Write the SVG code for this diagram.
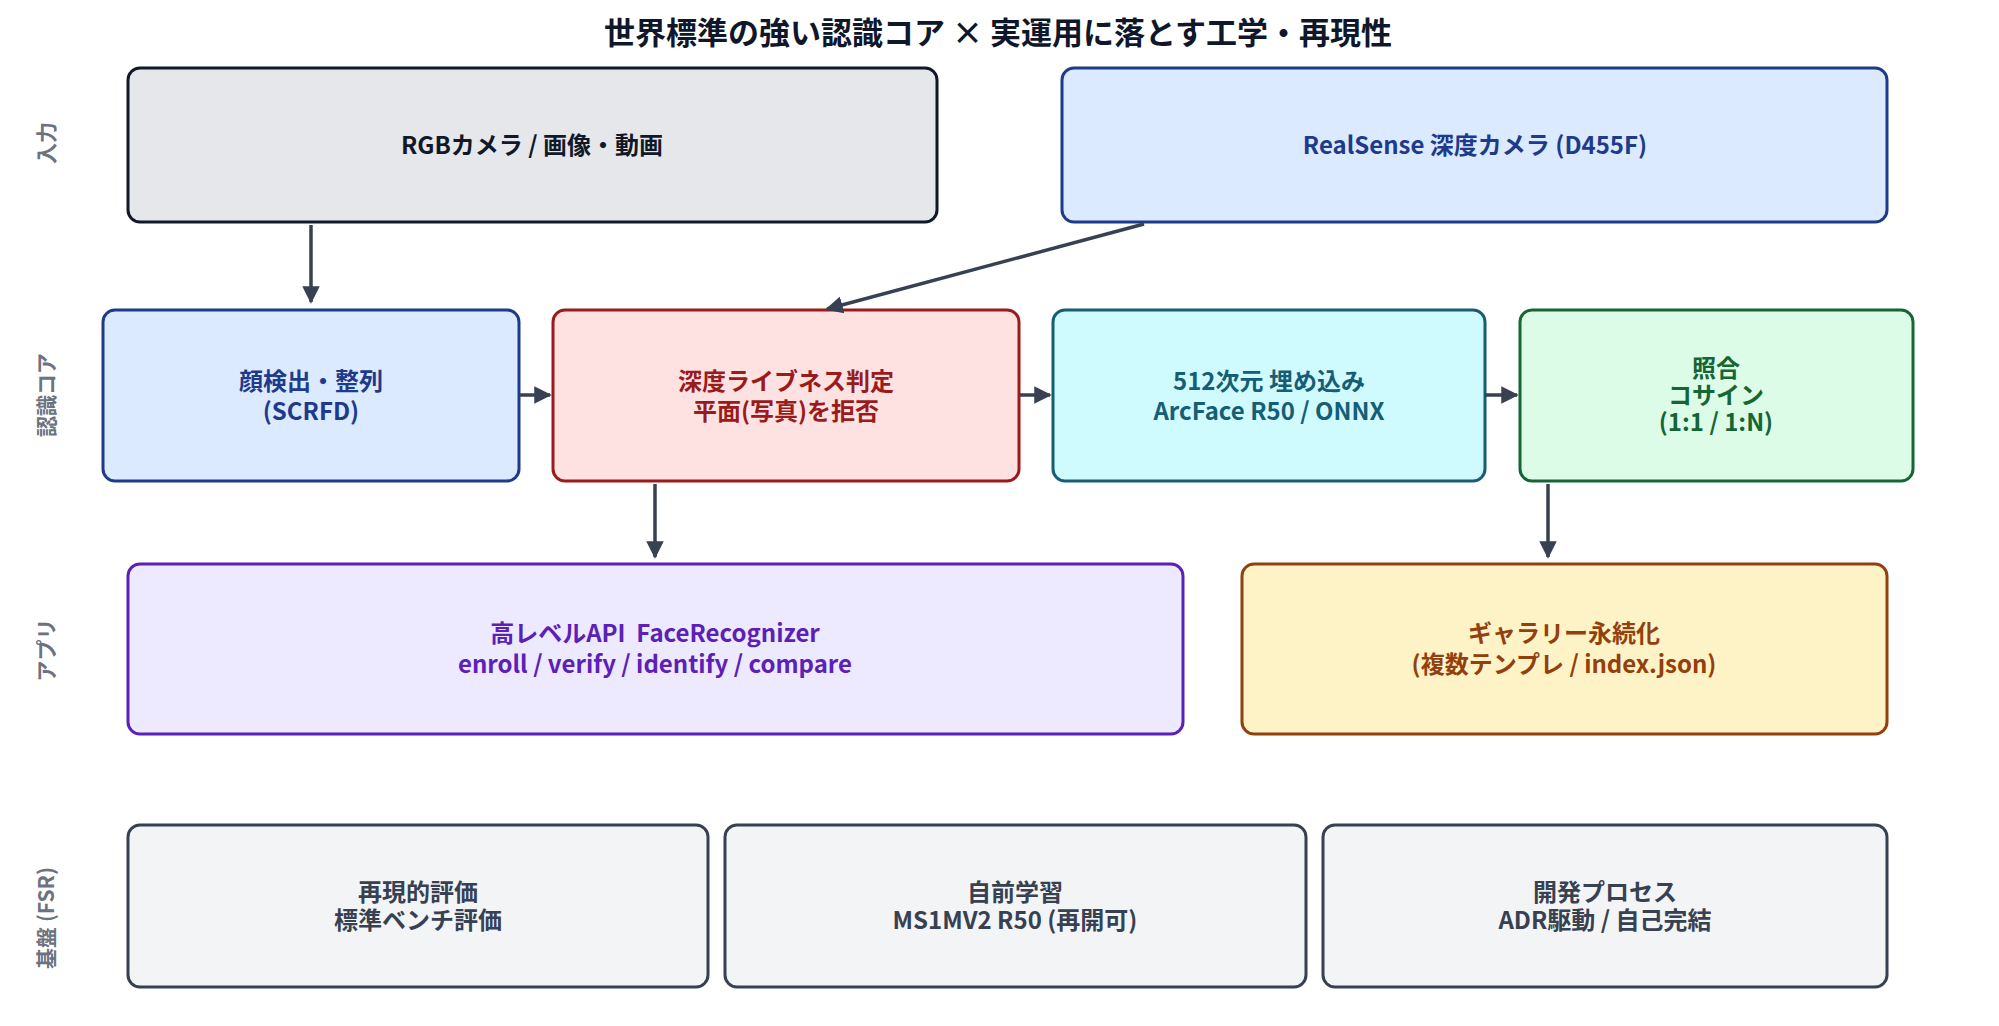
<svg xmlns="http://www.w3.org/2000/svg" width="1999" height="1026" viewBox="0 0 1999 1026">
<style>
text{font-family:"Noto Sans CJK JP","Noto Sans",sans-serif;font-weight:700;text-anchor:middle;dominant-baseline:central}
.t{font-size:24px}
.lane{font-size:21px;fill:#6b7280}
rect{stroke-width:3}
.c{stroke:#374151;stroke-width:3.5;fill:none;marker-end:url(#a)}
</style>
<defs><marker id="a" viewBox="0 0 10 10" refX="9" refY="5" markerWidth="5" markerHeight="5" orient="auto" markerUnits="strokeWidth"><path d="M0,0L10,5L0,10z" fill="#374151"/></marker></defs>
<rect width="1999" height="1026" fill="#fff" style="stroke:none"/>
<text x="998" y="30" style="font-size:31px;fill:#0f172a">世界標準の強い認識コア × 実運用に落とす工学・再現性</text>
<g id="lanes">
<text class="lane" transform="translate(45,143) rotate(-90)">入力</text>
<text class="lane" transform="translate(45,395) rotate(-90)">認識コア</text>
<text class="lane" transform="translate(45,650) rotate(-90)">アプリ</text>
<text class="lane" transform="translate(45,918) rotate(-90)">基盤 (FSR)</text>
</g>
<g id="rgb"><rect x="128" y="68" width="809" height="154" rx="12" fill="#e5e7eb" stroke="#111827"/><text class="t" x="532" y="143" fill="#111827">RGBカメラ / 画像・動画</text></g>
<g id="realsense"><rect x="1062" y="68" width="825" height="154" rx="12" fill="#dbeafe" stroke="#1e3a8a"/><text class="t" x="1475" y="143" fill="#1e3a8a">RealSense 深度カメラ (D455F)</text></g>
<g id="detect"><rect x="103" y="310" width="416" height="171" rx="12" fill="#dbeafe" stroke="#1e3a8a"/><text class="t" fill="#1e3a8a"><tspan x="311" y="379">顔検出・整列</tspan><tspan x="311" y="409">(SCRFD)</tspan></text></g>
<g id="liveness"><rect x="553" y="310" width="466" height="171" rx="12" fill="#fee2e2" stroke="#991b1b"/><text class="t" fill="#991b1b"><tspan x="786" y="379">深度ライブネス判定</tspan><tspan x="786" y="409">平面(写真)を拒否</tspan></text></g>
<g id="embed"><rect x="1053" y="310" width="432" height="171" rx="12" fill="#cffafe" stroke="#155e75"/><text class="t" fill="#155e75"><tspan x="1269" y="379">512次元 埋め込み</tspan><tspan x="1269" y="409">ArcFace R50 / ONNX</tspan></text></g>
<g id="match"><rect x="1520" y="310" width="393" height="171" rx="12" fill="#dcfce7" stroke="#166534"/><text class="t" fill="#166534"><tspan x="1716" y="366">照合</tspan><tspan x="1716" y="393">コサイン</tspan><tspan x="1716" y="420">(1:1 / 1:N)</tspan></text></g>
<g id="api"><rect x="128" y="564" width="1055" height="170" rx="12" fill="#ede9fe" stroke="#5b21b6"/><text class="t" fill="#5b21b6"><tspan x="655" y="631">高レベルAPI&#160; FaceRecognizer</tspan><tspan x="655" y="662">enroll / verify / identify / compare</tspan></text></g>
<g id="gallery"><rect x="1242" y="564" width="645" height="170" rx="12" fill="#fef3c7" stroke="#92400e"/><text class="t" fill="#92400e"><tspan x="1564" y="631">ギャラリー永続化</tspan><tspan x="1564" y="662">(複数テンプレ / index.json)</tspan></text></g>
<g id="eval"><rect x="128" y="825" width="580" height="162" rx="12" fill="#f3f4f6" stroke="#374151"/><text class="t" fill="#374151"><tspan x="418" y="890">再現的評価</tspan><tspan x="418" y="918">標準ベンチ評価</tspan></text></g>
<g id="train"><rect x="725" y="825" width="581" height="162" rx="12" fill="#f3f4f6" stroke="#374151"/><text class="t" fill="#374151"><tspan x="1015" y="890">自前学習</tspan><tspan x="1015" y="918">MS1MV2 R50 (再開可)</tspan></text></g>
<g id="process"><rect x="1323" y="825" width="564" height="162" rx="12" fill="#f3f4f6" stroke="#374151"/><text class="t" fill="#374151"><tspan x="1605" y="890">開発プロセス</tspan><tspan x="1605" y="918">ADR駆動 / 自己完結</tspan></text></g>
<g id="connectors">
<path class="c" d="M311,225V302"/>
<path class="c" d="M1144,224L827,309"/>
<path class="c" d="M519,395H550"/>
<path class="c" d="M1019,395H1050"/>
<path class="c" d="M1485,395H1517"/>
<path class="c" d="M655,484V557"/>
<path class="c" d="M1548,484V557"/>
</g>
</svg>
